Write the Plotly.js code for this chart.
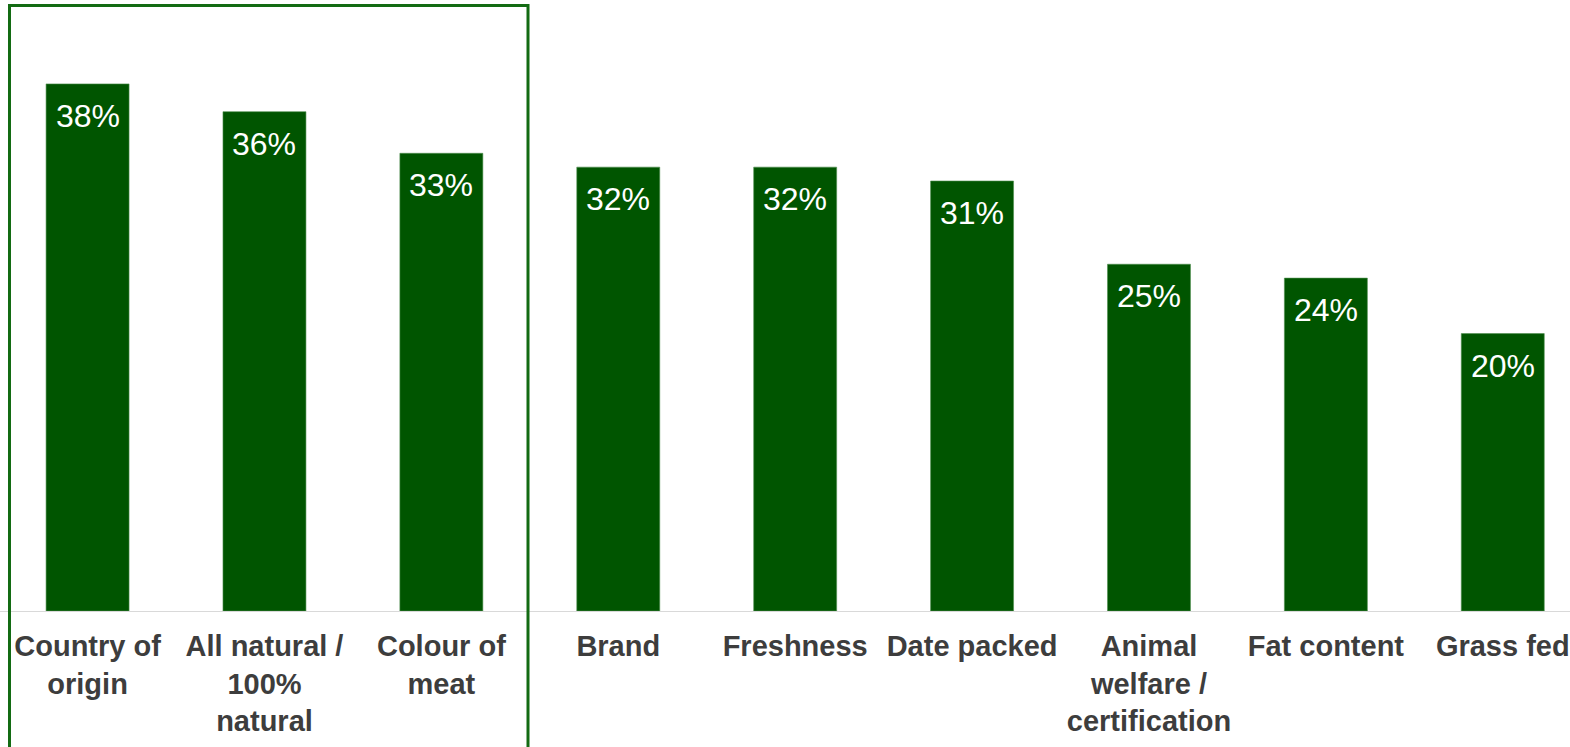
<!DOCTYPE html>
<html>
<head>
<meta charset="utf-8">
<script src="https://cdn.plot.ly/plotly-3.0.1.min.js"></script>
<style>html,body{margin:0;padding:0;background:#fff;}#chart{width:1570px;height:747px;}</style>
</head>
<body>
<div id="chart"></div>
<script>
const categories = ["Country of<br>origin", "All natural /<br>100%<br>natural", "Colour of<br>meat", "Brand", "Freshness", "Date packed", "Animal<br>welfare /<br>certification", "Fat content", "Grass fed"];
const values = [38, 36, 33, 32, 32, 31, 25, 24, 20];
const valueLabels = values.map(v => v + "%");

const trace = {
  type: "bar",
  x: categories,
  y: values,
  marker: {color: "#005500", line: {color: "#4f8f4f", width: 0.6}},
  hoverinfo: "x+y"
};

const annotations = categories.map((c, i) => ({
  x: c, y: values[i], xref: "x", yref: "y",
  text: valueLabels[i], showarrow: false,
  yanchor: "middle", yshift: -32,
  font: {family: "Liberation Sans, Arial, sans-serif", size: 32, color: "#ffffff"}
}));

const layout = {
  width: 1570, height: 747,
  margin: {l: 0, r: 0, t: 0, b: 136},
  paper_bgcolor: "#ffffff", plot_bgcolor: "#ffffff",
  showlegend: false,
  bargap: 0.531,
  font: {family: "Liberation Sans, Arial, sans-serif"},
  xaxis: {
    range: [-0.495, 8.38],
    showline: true, linecolor: "#d9d9d9", linewidth: 1,
    showgrid: false, zeroline: false, ticks: "", ticklabelstandoff: 9,
    tickfont: {family: "Liberation Sans, Arial, sans-serif", size: 29, color: "#3d3d3d", weight: "bold"}
  },
  yaxis: {
    range: [0, 44.05], visible: false, showgrid: false, zeroline: false
  },
  annotations: annotations,
  shapes: [{
    type: "rect", xref: "paper", yref: "paper",
    x0: 9.5/1570, x1: 528/1570, y0: -0.23, y1: (611-5.5)/611,
    line: {color: "#136b13", width: 3}, fillcolor: "rgba(0,0,0,0)"
  }]
};

Plotly.newPlot("chart", [trace], layout, {displayModeBar: false, staticPlot: true});
</script>
</body>
</html>
